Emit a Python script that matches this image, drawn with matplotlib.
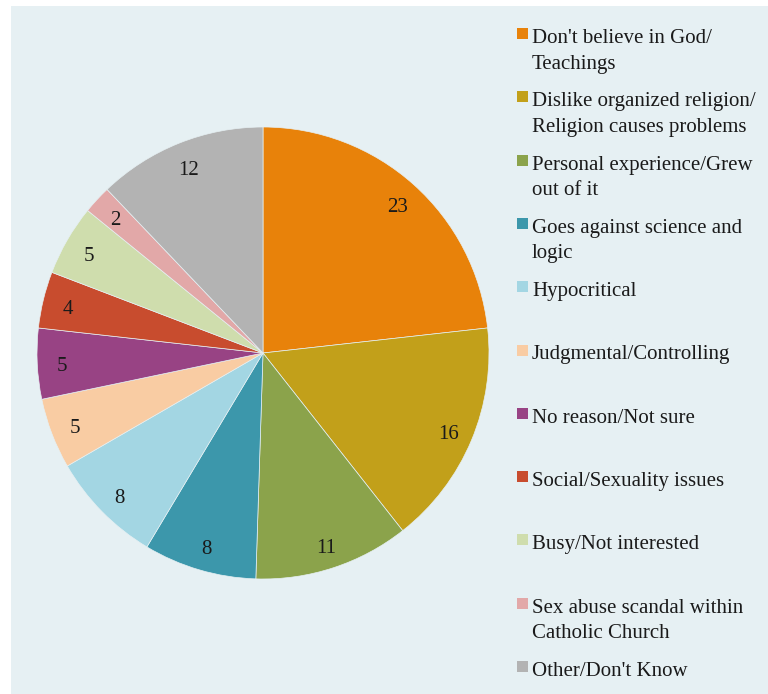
import matplotlib.pyplot as plt
from matplotlib.patches import Rectangle
from matplotlib.transforms import offset_copy

# reasons for leaving, counts
reasons = [
    "Don't believe in God/\nTeachings",
    "Dislike organized religion/\nReligion causes problems",
    "Personal experience/Grew\nout of it",
    "Goes against science and\nlogic",
    "Hypocritical",
    "Judgmental/Controlling",
    "No reason/Not sure",
    "Social/Sexuality issues",
    "Busy/Not interested",
    "Sex abuse scandal within\nCatholic Church",
    "Other/Don't Know",
]
counts = [23, 16, 11, 8, 8, 5, 5, 4, 5, 2, 12]
colors = ['#e8820a', '#c2a01a', '#8ba34b', '#3c97ab', '#a3d6e3', '#f9cca3',
          '#984384', '#c84c2e', '#cfddad', '#e2a8a8', '#b3b3b3']

bg = '#e6f0f3'
W, H = 768, 694

fig = plt.figure(figsize=(7.68, 6.94), dpi=100)
fig.patch.set_facecolor('white')
# light panel behind everything
fig.add_artist(Rectangle((11 / W, 0), 1 - 11 / W, 1 - 6 / H, transform=fig.transFigure,
                         facecolor=bg, edgecolor='none', zorder=0))

ax = fig.add_axes([37 / W, 1 - 579 / H, 452 / W, 452 / H])
ax.set_facecolor('none')
wedges, texts = ax.pie(counts, colors=colors, labels=[str(c) for c in counts],
                       labeldistance=0.89, startangle=90, counterclock=False,
                       wedgeprops=dict(edgecolor=bg, linewidth=0.5),
                       textprops=dict(family='Liberation Serif', fontsize=15, color='#1a1a1a'))
for t in texts:
    t.set_ha('center')
    t.set_va('center')
    t.set_transform(offset_copy(t.get_transform(), fig=fig, y=-4, units='dots'))
ax.set_xlim(-1, 1)
ax.set_ylim(-1, 1)
ax.set_aspect('equal')

# hand-made legend, evenly spaced rows
y0 = 36
step = 63.3
for i, (name, col) in enumerate(zip(reasons, colors)):
    y = y0 + i * step
    fig.add_artist(Rectangle((517 / W, 1 - (y + 3) / H), 11 / W, 11 / H,
                             transform=fig.transFigure, facecolor=col, edgecolor='none'))
    fig.text(532 / W, 1 - (y - 7) / H, name, ha='left', va='top',
             family='Liberation Serif', fontsize=15, color='#1a1a1a', linespacing=1.47)

fig.savefig('out.png', dpi=100)
